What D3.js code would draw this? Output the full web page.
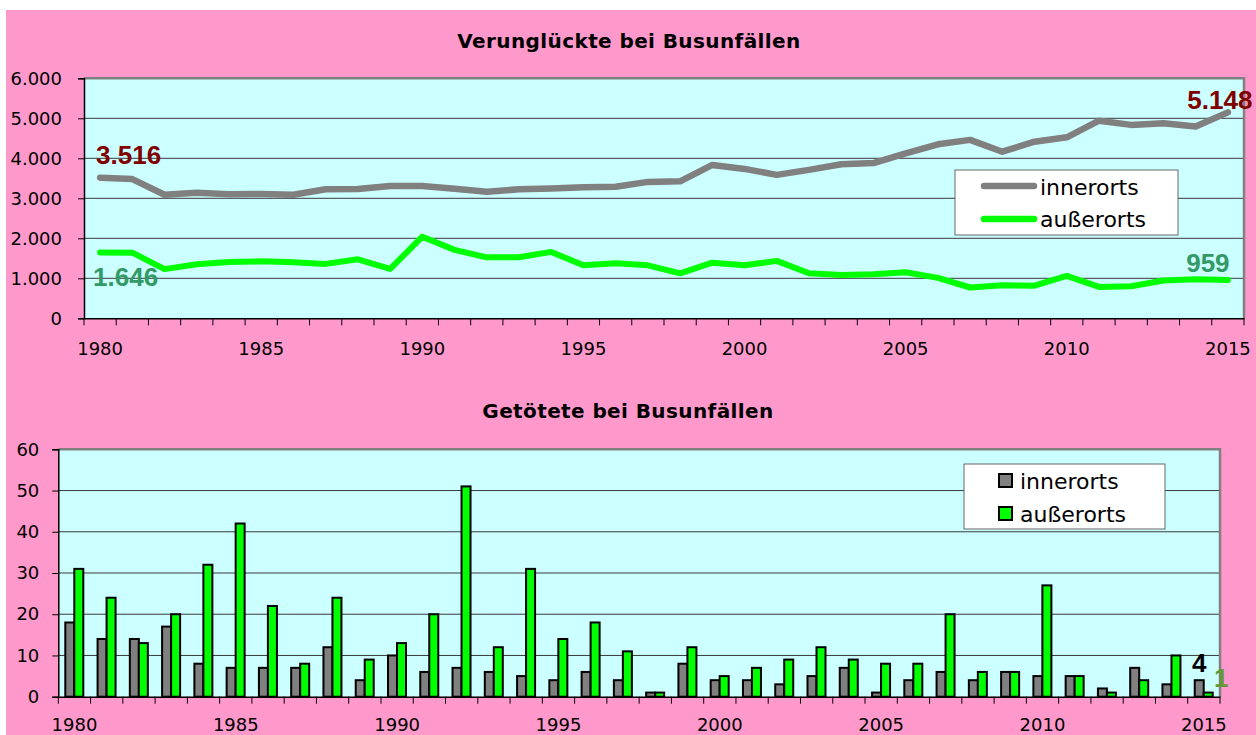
<!DOCTYPE html>
<html><head><meta charset="utf-8">
<script src="https://cdn.jsdelivr.net/npm/d3@7"></script>
<style>body{margin:0;background:#fff;} svg{display:block}</style>
</head><body>
<svg id="c" width="1256" height="735"></svg>
<script>
// ---------- DATA ----------
const years = [1980,1981,1982,1983,1984,1985,1986,1987,1988,1989,1990,1991,1992,1993,1994,1995,1996,1997,1998,1999,2000,2001,2002,2003,2004,2005,2006,2007,2008,2009,2010,2011,2012,2013,2014,2015];
const yearLabels = [1980,1985,1990,1995,2000,2005,2010,2015];
const seriesNames = ["innerorts","außerorts"];

// Verunglückte (injured)
const injuredInner = [3516,3480,3090,3140,3100,3110,3090,3225,3235,3310,3310,3240,3165,3225,3245,3275,3290,3410,3425,3835,3735,3585,3710,3850,3880,4125,4350,4460,4165,4415,4525,4940,4835,4875,4795,5148];
const injuredOuter = [1646,1640,1230,1350,1410,1425,1400,1360,1475,1235,2040,1710,1525,1525,1660,1325,1375,1325,1125,1390,1325,1435,1125,1085,1100,1150,1010,770,825,815,1060,785,800,945,975,959];
const injuredTicks = [0,1000,2000,3000,4000,5000,6000];

// Getötete (killed)
const killedInner = [18,14,14,17,8,7,7,7,12,4,10,6,7,6,5,4,6,4,1,8,4,4,3,5,7,1,4,6,4,6,5,5,2,7,3,4];
const killedOuter = [31,24,13,20,32,42,22,8,24,9,13,20,51,12,31,14,18,11,1,12,5,7,9,12,9,8,8,20,6,6,27,5,1,4,10,1];
const killedTicks = [0,10,20,30,40,50,60];

const titles = ["Verunglückte bei Busunfällen","Getötete bei Busunfällen"];

// ---------- STYLE ----------
const PINK = "#FF99CC", PLOT = "#CCFFFF", GRAY = "#808080", GREEN = "#00FF00";
const FONT = "'DejaVu Sans', Verdana, sans-serif";
const de = d3.formatLocale({decimal:",", thousands:".", grouping:[3], currency:["","€"]});
const fmt = de.format(",");

const svg = d3.select("#c");
svg.append("rect").attr("x",6).attr("y",10).attr("width",1250).attr("height",725).attr("fill",PINK);

function frame(x, y, gridTicks) {
  const [x0,x1] = x.range(), [yb,yt] = y.range();
  svg.append("rect").attr("x",x0).attr("y",yt).attr("width",x1-x0).attr("height",yb-yt).attr("fill",PLOT);
  svg.append("g").selectAll("line").data(gridTicks.slice(1,-1)).join("line")
    .attr("x1",x0).attr("x2",x1).attr("y1",d=>y(d)).attr("y2",d=>y(d))
    .attr("stroke","#3a3a3a").attr("stroke-width",1);
  // gray border top/right
  svg.append("path").attr("d",`M${x0},${yt}H${x1}V${yb}`).attr("fill","none").attr("stroke",GRAY).attr("stroke-width",2.5);
}

function axes(x, y, ticks, fmtY, labelPad, xLabelPad) {
  const [x0,x1] = x.range(), [yb,yt] = y.range();
  const ya = svg.append("g").attr("transform",`translate(${x0},0)`)
    .call(d3.axisLeft(y).tickValues(ticks).tickSize(6).tickPadding(labelPad).tickFormat(fmtY));
  ya.select(".domain").attr("stroke","#000").attr("stroke-width",1.5);
  ya.selectAll("line").attr("stroke","#000");
  ya.selectAll("text").attr("font-family",FONT).attr("font-size",18).attr("fill","#000");
  // x axis labels
  const xa = svg.append("g").attr("transform",`translate(0,${yb})`)
    .call(d3.axisBottom(x).tickValues(yearLabels).tickSize(0).tickPadding(xLabelPad));
  xa.select(".domain").attr("stroke","#000").attr("stroke-width",1.5);
  xa.selectAll("text").attr("font-family",FONT).attr("font-size",18).attr("fill","#000");
  // boundary ticks
  const bounds = years.map(d=>x(d)).concat([x1]);
  svg.append("g").selectAll("line").data(bounds).join("line")
    .attr("x1",d=>d).attr("x2",d=>d).attr("y1",yb).attr("y2",yb+7)
    .attr("stroke","#000").attr("stroke-width",1);
}

function title(text, cx, baseline) {
  svg.append("text").attr("x",cx).attr("y",baseline).attr("text-anchor","middle")
    .attr("font-family",FONT).attr("font-weight","bold").attr("font-size",20)
    .attr("letter-spacing","0.4px").attr("fill","#000").text(text);
}

// ---------- TOP CHART ----------
const x1s = d3.scaleBand().domain(years).range([84,1244]);
const y1s = d3.scaleLinear().domain([0,6000]).range([318.3,78.3]);
title(titles[0], 629, 48);
frame(x1s, y1s, injuredTicks);
axes(x1s, y1s, injuredTicks, fmt, 16, 24);

const cx1 = d => x1s(d) + x1s.bandwidth()/2;
const line = d3.line().x((d,i)=>cx1(years[i])).y(d=>y1s(d));
svg.append("path").datum(injuredInner).attr("d",line).attr("fill","none")
  .attr("stroke",GRAY).attr("stroke-width",6.5).attr("stroke-linejoin","round").attr("stroke-linecap","round");
svg.append("path").datum(injuredOuter).attr("d",line).attr("fill","none")
  .attr("stroke",GREEN).attr("stroke-width",6).attr("stroke-linejoin","round").attr("stroke-linecap","round");

const LBL = "'Liberation Sans', Arial, sans-serif";
function dlabel(x, y, txt, color, anchor) {
  svg.append("text").attr("x",x).attr("y",y).attr("text-anchor",anchor||"start")
    .attr("font-family",LBL).attr("font-weight","bold").attr("font-size",26)
    .attr("fill",color).text(txt);
}
const n = years.length - 1;
dlabel(cx1(years[0])-4, y1s(injuredInner[0])-14, fmt(injuredInner[0]), "#800000");
dlabel(cx1(years[0])-7, y1s(injuredOuter[0])+34, fmt(injuredOuter[0]), "#339966");
dlabel(cx1(years[n])-8, y1s(injuredInner[n])-3, fmt(injuredInner[n]), "#800000", "middle");
dlabel(cx1(years[n])-20, y1s(injuredOuter[n])-8, fmt(injuredOuter[n]), "#339966", "middle");

// legend top
const lg1 = svg.append("g");
lg1.append("rect").attr("x",955).attr("y",170).attr("width",223).attr("height",65)
  .attr("fill","#fff").attr("stroke","#666").attr("stroke-width",1);
[[GRAY,186,195],[GREEN,219,227]].forEach((s,i)=>{
  lg1.append("line").attr("x1",984).attr("x2",1034).attr("y1",s[1]).attr("y2",s[1])
    .attr("stroke",s[0]).attr("stroke-width",6.5).attr("stroke-linecap","round");
  lg1.append("text").attr("x",1040).attr("y",s[2]).attr("font-family",FONT).attr("font-size",22)
    .attr("fill","#000").text(seriesNames[i]);
});

// ---------- BOTTOM CHART ----------
const x2s = d3.scaleBand().domain(years).range([58.3,1220]);
const y2s = d3.scaleLinear().domain([0,60]).range([696.7,449.3]);
const sub = d3.scaleBand().domain(seriesNames).range([7,25]);
title(titles[1], 628, 418);
frame(x2s, y2s, killedTicks);

const barData = years.map((yr,i)=>[
  {yr, s:seriesNames[0], v:killedInner[i], c:GRAY},
  {yr, s:seriesNames[1], v:killedOuter[i], c:GREEN}
]).flat();
svg.append("g").selectAll("rect").data(barData).join("rect")
  .attr("x",d=>x2s(d.yr)+sub(d.s)).attr("width",sub.bandwidth())
  .attr("y",d=>y2s(d.v)).attr("height",d=>y2s(0)-y2s(d.v))
  .attr("fill",d=>d.c).attr("stroke","#000").attr("stroke-width",2);

axes(x2s, y2s, killedTicks, d3.format("d"), 13, 22);

dlabel(x2s(years[n])+sub(seriesNames[0])+sub.bandwidth()/2, y2s(killedInner[n])-8.5, String(killedInner[n]), "#000", "middle");
dlabel(x2s(years[n])+sub(seriesNames[1])+sub.bandwidth()/2+13, y2s(killedOuter[n])-6, String(killedOuter[n]), "#669933", "middle");

// legend bottom
const lg2 = svg.append("g");
lg2.append("rect").attr("x",964).attr("y",464).attr("width",201).attr("height",65)
  .attr("fill","#fff").attr("stroke","#666").attr("stroke-width",1);
[[GRAY,474,489],[GREEN,507,522]].forEach((s,i)=>{
  lg2.append("rect").attr("x",999).attr("y",s[1]).attr("width",13).attr("height",13)
    .attr("fill",s[0]).attr("stroke","#000").attr("stroke-width",2);
  lg2.append("text").attr("x",1020).attr("y",s[2]).attr("font-family",FONT).attr("font-size",22)
    .attr("fill","#000").text(seriesNames[i]);
});
</script>
</body></html>
